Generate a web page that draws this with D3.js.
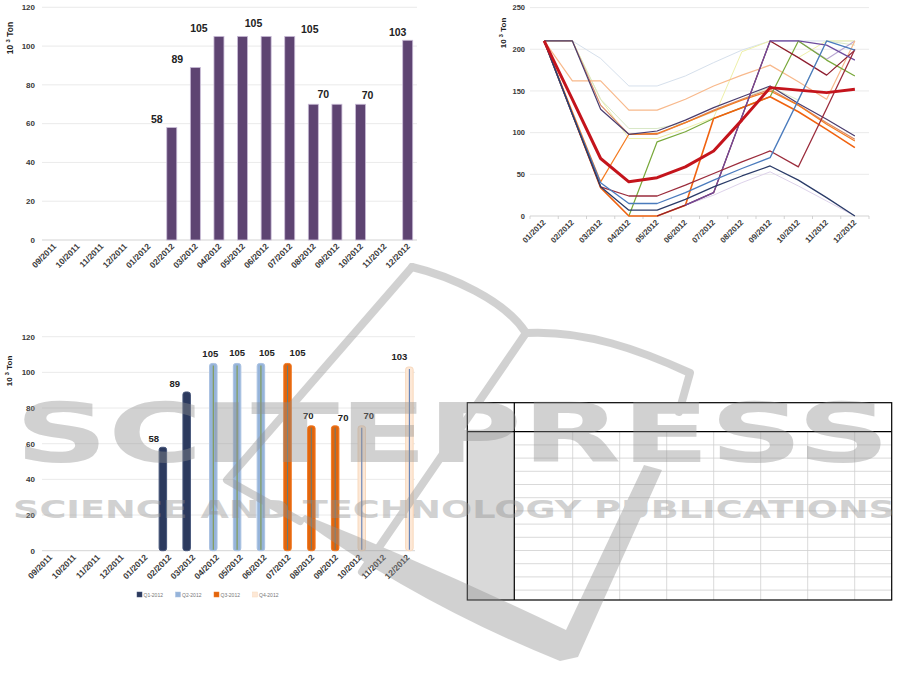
<!DOCTYPE html>
<html><head><meta charset="utf-8">
<script src="https://cdn.jsdelivr.net/npm/d3@7"></script>
<style>
html,body{margin:0;padding:0;background:#fff;}
svg{display:block;font-family:"Liberation Sans",Arial,sans-serif;}
</style></head>
<body>
<svg id="chart" width="911" height="693"></svg>
<script>
// ---------- DATA ----------
const months1 = ['09/2011','10/2011','11/2011','12/2011','01/2012','02/2012','03/2012','04/2012','05/2012','06/2012','07/2012','08/2012','09/2012','10/2012','11/2012','12/2012'];
const values1 = [null,null,null,null,null,58,89,105,105,105,105,70,70,70,null,103];
const labelMonths1 = ['02/2012','03/2012','04/2012','05/2012','07/2012','08/2012','10/2012','12/2012'];
const ticks1 = [0,20,40,60,80,100,120];

const quarters = ['Q1-2012','Q2-2012','Q3-2012','Q4-2012'];
const quarter3 = [null,null,null,null,null,'Q1-2012','Q1-2012','Q2-2012','Q2-2012','Q2-2012','Q3-2012','Q3-2012','Q3-2012','Q4-2012',null,'Q4-2012'];

const months2 = ['01/2012','02/2012','03/2012','04/2012','05/2012','06/2012','07/2012','08/2012','09/2012','10/2012','11/2012','12/2012'];
const ticks2 = [0,50,100,150,200,250];
const sLightBlue = [210,210,189,156,156,168,184,199,210,210,210,210];
const sPaleYellow = [210,210,140,93,93,105,118,197,210,190,210,210];
const sPaleGreen = [210,210,140,105,105,112,125,140,155,139,210,205];
const sPeach = [210,162,162,127,127,140,156,169,181,161,140,210];
const sLavenderTop = [null,null,null,null,null,null,null,null,210,210,188,210];
const sLavender = [null,null,null,null,null,13,25,40,53,36,18,0];
const sSlate = [210,210,128,98,102,115,130,143,156,135,116,96];
const sSalmon = [210,210,133,98,98,112,127,140,152,133,112,92];
const sOrangeB = [210,125,41,98,99,112,126,139,150,133,110,90];
const sOrangeA = [210,122,34,0,0,13,117,130,143,125,104,82];
const sOlive = [null,null,null,0,89,101,117,130,143,210,187,168];
const sMaroonA = [210,122,35,24,24,37,51,65,78,59,129,200];
const sMaroonB = [null,null,null,null,0,13,28,119,210,190,169,199];
const sPurple = [null,null,null,null,null,13,28,119,210,210,205,187];
const sBlue = [210,122,40,15,15,28,43,57,70,139,210,199];
const sNavy = [210,122,35,7,7,20,35,48,60,43,22,0];
const sAverage = [210,140,69,41,46,59,78,115,154,151,148,152];

const tableColumns = 8;
const tableRows = 13;
const watermarkTitle = 'SCITEPRESS';
const watermarkSubtitle = 'SCIENCE AND TECHNOLOGY PUBLICATIONS';

// ---------- HELPERS ----------
const svg = d3.select('#chart');
const tickFill = '#3a3a3a';

function yAxis(g, scale, ticks, x0, x1, labelX, size) {
  g.selectAll('line.grid').data(ticks).join('line').attr('class','grid')
    .attr('x1', x0).attr('x2', x1).attr('y1', d => scale(d)).attr('y2', d => scale(d))
    .attr('stroke', d => d === 0 ? '#c8c8c8' : '#e4e4e4').attr('stroke-width', 0.8);
  g.selectAll('text.yt').data(ticks).join('text').attr('class','yt')
    .attr('x', labelX).attr('y', d => scale(d)).attr('dy','0.35em')
    .attr('text-anchor','end').attr('font-size', size).attr('font-weight', 'bold')
    .attr('fill', tickFill).text(d => d);
}
function xLabels(g, scale, y0, dx, size) {
  const ax = d3.axisBottom(scale).tickSize(0).tickPadding(0);
  g.attr('transform', `translate(0,${y0})`).call(ax);
  g.select('.domain').remove();
  g.selectAll('text').attr('font-size', size).attr('font-weight', 'bold')
    .attr('fill', tickFill).attr('font-family','"Liberation Sans",Arial,sans-serif')
    .attr('text-anchor','end').attr('dy', null).attr('y', null)
    .attr('transform', `translate(${dx},6) rotate(-45)`);
}
function yTitle(x, y, size) {
  const t = svg.append('text').attr('transform', `translate(${x},${y}) rotate(-90)`)
    .attr('text-anchor','middle').attr('font-size', size).attr('font-weight','bold').attr('fill','#222');
  t.append('tspan').text('10 ');
  t.append('tspan').attr('font-size', size * 0.7).attr('dy', -size * 0.35).text('3');
  t.append('tspan').attr('dy', size * 0.35).text(' Ton');
}

// ---------- CHART 1 (top-left) ----------
{
  const g = svg.append('g');
  const x = d3.scaleBand(months1, [42, 419.5]);
  const y = d3.scaleLinear([0, 120], [240, 7.3]);
  yAxis(g, y, ticks1, 42, 417, 35, 8);
  const data = months1.map((m, i) => ({m, v: values1[i]})).filter(d => d.v != null);
  const bw = 10;
  g.selectAll('rect.bar').data(data).join('rect').attr('class','bar')
    .attr('x', d => x(d.m) + x.bandwidth()/2 - bw/2).attr('width', bw)
    .attr('y', d => y(d.v)).attr('height', d => y(0) - y(d.v))
    .attr('fill', '#5e4472').attr('stroke', '#c9bcd6').attr('stroke-width', 0.8);
  const shift = [-15,-18,-20,11,20,10,7,-10];
  const lift = [4.5,4,4.5,9.5,3.5,6,5,4.7];
  g.selectAll('text.lab').data(labelMonths1).join('text').attr('class','lab')
    .attr('x', (m, i) => x(m) + x.bandwidth()/2 + shift[i])
    .attr('y', (m, i) => y(values1[months1.indexOf(m)]) - lift[i])
    .attr('text-anchor','middle').attr('font-size', 10.5).attr('font-weight','bold').attr('fill','#222')
    .text(m => values1[months1.indexOf(m)]);
  xLabels(g.append('g'), x, 241, 3, 8.5);
  yTitle(13, 38, 8.5);
}

// ---------- CHART 2 (top-right) ----------
{
  const g = svg.append('g');
  const x = d3.scaleBand(months2, [530, 869]);
  const y = d3.scaleLinear([0, 250], [216, 7.6]);
  yAxis(g, y, ticks2, 530, 869, 525, 7.5);
  g.selectAll('line.tk').data(months2.concat(['end'])).join('line').attr('class','tk')
    .attr('x1', (m, i) => 530 + i * x.step()).attr('x2', (m, i) => 530 + i * x.step())
    .attr('y1', 216).attr('y2', 219).attr('stroke', '#c8c8c8').attr('stroke-width', 0.8);
  const series = [
    {v: sLightBlue, c: '#d6e0ec', w: 1},
    {v: sPaleYellow, c: '#eef0a8', w: 1},
    {v: sPaleGreen, c: '#d8e8c6', w: 1},
    {v: sLavenderTop, c: '#b8a6d2', w: 1.1},
    {v: sLavender, c: '#ddd2ea', w: 1},
    {v: sPeach, c: '#f8b98c', w: 1.2},
    {v: sSalmon, c: '#d98a66', w: 1.2},
    {v: sOrangeB, c: '#f47b20', w: 1.2},
    {v: sSlate, c: '#4a3d6e', w: 1.2},
    {v: sOlive, c: '#78a83a', w: 1.2},
    {v: sOrangeA, c: '#f0620f', w: 1.6},
    {v: sMaroonB, c: '#8e1e30', w: 1.3},
    {v: sPurple, c: '#6d4c9e', w: 1.2},
    {v: sMaroonA, c: '#9b2c3c', w: 1.3},
    {v: sBlue, c: '#4a7bbd', w: 1.3},
    {v: sNavy, c: '#2a3b68', w: 1.3},
    {v: sAverage, c: '#c4141c', w: 3}
  ];
  const line = d3.line().defined(d => d.v != null)
    .x(d => x(d.m) + x.bandwidth()/2).y(d => y(d.v));
  g.selectAll('path.s').data(series).join('path').attr('class','s')
    .attr('d', s => line(months2.map((m, i) => ({m, v: s.v[i]}))))
    .attr('fill','none').attr('stroke', s => s.c).attr('stroke-width', s => s.w)
    .attr('stroke-linejoin','round');
  xLabels(g.append('g'), x, 217, 2, 8);
  yTitle(506, 33, 8);
}

// ---------- CHART 3 (bottom-left) ----------
{
  const g = svg.append('g');
  const x = d3.scaleBand(months1, [38, 419]);
  const xq = d3.scaleBand(quarters, [-7.5, 3.7]);
  const y = d3.scaleLinear([0, 120], [550.7, 336.7]);
  yAxis(g, y, ticks1, 42, 415, 35, 8);
  const fills = {'Q1-2012':'#2c3a5e','Q2-2012':'#96b4da','Q3-2012':'#e2650c','Q4-2012':'#fde8d6'};
  const edges = {'Q1-2012':'#46557a','Q2-2012':'#aac2e2','Q3-2012':'#f07a25','Q4-2012':'#f8d9bd'};
  const cores = {'Q1-2012':'#2c3a5e','Q2-2012':'#7f9a4e','Q3-2012':'#6e7a70','Q4-2012':'#5f7fb8'};
  const data = months1.map((m, i) => ({m, v: values1[i], q: quarter3[i]})).filter(d => d.v != null);
  const cx = d => x(d.m) + x.bandwidth()/2 + xq(d.q) + xq.bandwidth()/2;
  const bw = 7.5;
  g.selectAll('rect.bar').data(data).join('rect').attr('class','bar')
    .attr('x', d => cx(d) - bw/2).attr('width', bw)
    .attr('y', d => y(d.v)).attr('height', d => y(0) - y(d.v))
    .attr('rx', 2.5).attr('fill', d => fills[d.q]).attr('stroke', d => edges[d.q]).attr('stroke-width', 1);
  g.selectAll('line.core').data(data.filter(d => d.q !== 'Q1-2012')).join('line').attr('class','core')
    .attr('x1', cx).attr('x2', cx).attr('y1', d => y(d.v) + 2).attr('y2', y(0) - 1)
    .attr('stroke', d => cores[d.q]).attr('stroke-width', 1.1);
  const shift = [-9,-12,-3,0,6,10,-3,8,7,-10];
  const lift = [5,5,6,7,7,7,7,5,7,7];
  g.selectAll('text.lab').data(data).join('text').attr('class','lab')
    .attr('x', (d, i) => cx(d) + shift[i]).attr('y', (d, i) => y(d.v) - lift[i])
    .attr('text-anchor','middle').attr('font-size', 9.5).attr('font-weight','bold').attr('fill','#222')
    .text(d => d.v);
  xLabels(g.append('g'), x, 552, 3, 8.5);
  yTitle(12, 371, 8);
  const lg = g.selectAll('g.lg').data(quarters).join('g').attr('class','lg')
    .attr('transform', (q, i) => `translate(${137 + i * 38.5},592)`);
  lg.append('rect').attr('width', 5).attr('height', 5).attr('fill', q => fills[q]).attr('stroke', q => edges[q]).attr('stroke-width', 0.5);
  lg.append('text').attr('x', 6.5).attr('y', 4.6).attr('font-size', 5).attr('fill','#777').text(q => q);
}

// ---------- TABLE (bottom-right) ----------
{
  const g = svg.append('g');
  const left = 467.3, right = 891.7, top = 402.7, headBottom = 431.7, bottom = 600, divider = 514.3;
  g.append('rect').attr('x', left).attr('y', headBottom).attr('width', divider - left).attr('height', bottom - headBottom).attr('fill','#d9d9d9');
  const colX = d3.range(1, tableColumns).map(i => divider + 58.4 + (i - 1) * 47);
  g.selectAll('line.vc').data(colX).join('line').attr('class','vc')
    .attr('x1', d => d).attr('x2', d => d).attr('y1', headBottom).attr('y2', bottom)
    .attr('stroke', '#cfcfcf').attr('stroke-width', 0.8);
  const rowY = d3.range(1, tableRows).map(i => headBottom + i * 13.2);
  g.selectAll('line.hr').data(rowY).join('line').attr('class','hr')
    .attr('x1', divider).attr('x2', right).attr('y1', d => d).attr('y2', d => d)
    .attr('stroke', '#cfcfcf').attr('stroke-width', 0.8);
  g.append('rect').attr('x', left).attr('y', top).attr('width', right - left).attr('height', bottom - top)
    .attr('fill','none').attr('stroke','#000').attr('stroke-width', 1.2);
  g.append('line').attr('x1', left).attr('x2', right).attr('y1', headBottom).attr('y2', headBottom).attr('stroke','#000').attr('stroke-width', 1.2);
  g.append('line').attr('x1', divider).attr('x2', divider).attr('y1', top).attr('y2', bottom).attr('stroke','#000').attr('stroke-width', 1.2);
}

// ---------- WATERMARK ----------
{
  const g = svg.append('g').attr('opacity', 0.4);
  const strokes = [
    'M412,267 L227,480 L300,521',
    'M412,267 C450,276 505,300 526,333',
    'M526,333 C585,330 640,350 690,373 L679,412',
    'M526,333 L362,572'
  ];
  g.selectAll('path.wm').data(strokes).join('path').attr('class','wm').attr('d', d => d)
    .attr('fill','none').attr('stroke','#8f8f8f').attr('stroke-width', 8).attr('stroke-linecap','round').attr('stroke-linejoin','round');
  g.append('path')
    .attr('d', 'M300,519 Q420,605 560,661 L578,657 L662,470 L644,465 L566,630 Q430,565 305,515 Z')
    .attr('fill','#8f8f8f');
  g.append('text').attr('x', 15).attr('y', 462).attr('font-family','"DejaVu Sans",sans-serif').attr('font-weight','bold')
    .attr('font-size', 82).attr('textLength', 875).attr('lengthAdjust','spacingAndGlyphs').attr('fill','#8f8f8f')
    .text(watermarkTitle);
  g.append('text').attr('x', 13).attr('y', 518).attr('font-family','"DejaVu Sans",sans-serif').attr('font-weight','bold')
    .attr('font-size', 25).attr('textLength', 882).attr('lengthAdjust','spacingAndGlyphs').attr('fill','#8f8f8f')
    .text(watermarkSubtitle);
}
</script>
</body></html>
